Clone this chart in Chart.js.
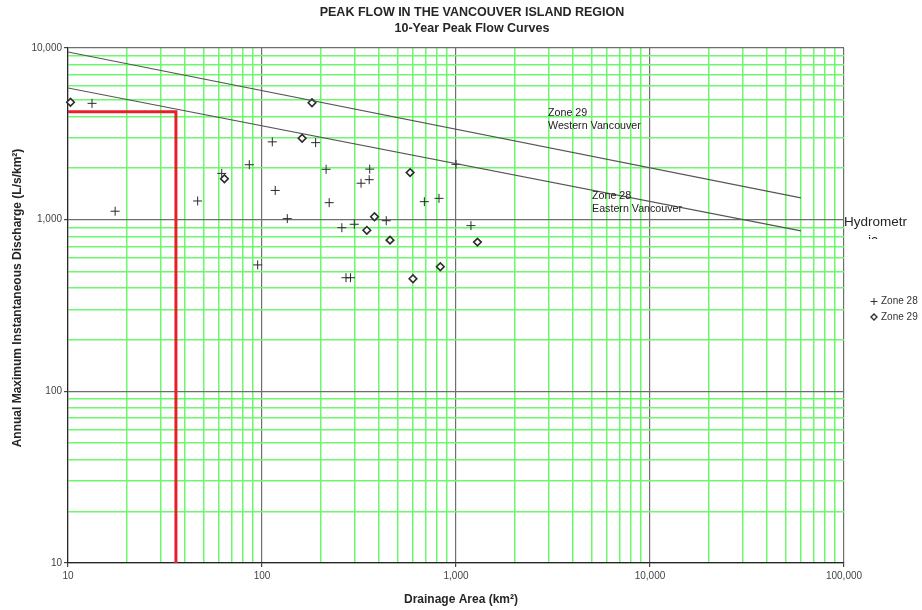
<!DOCTYPE html>
<html>
<head>
<meta charset="utf-8">
<title>Peak Flow - Vancouver Island Region</title>
<script src="https://cdn.jsdelivr.net/npm/chart.js@4.4.1/dist/chart.umd.min.js"></script>
<style>
    html, body { margin: 0; padding: 0; background: #ffffff; }
    #wrap { width: 922px; height: 610px; }
</style>
</head>
<body>
<div id="wrap"><canvas id="peak-flow-chart" width="922" height="610"></canvas></div>
<script>
// --- Data ---

// Zone 28 (Eastern Vancouver) hydrometric stations
const zone28Area = [13.3, 17.5, 46.6, 62, 86, 95, 113, 117, 135, 189, 214, 222, 258, 271, 286, 299, 324, 357, 359, 437, 687, 817, 1000, 1194];
const zone28Flow = [4760, 1120, 1285, 1860, 2090, 545, 2840, 1480, 1014, 2810, 1965, 1256, 898, 459, 459, 940, 1630, 1710, 1970, 986, 1273, 1331, 2100, 923];

// Zone 29 (Western Vancouver) hydrometric stations
const zone29Area = [10.3, 64, 161, 181, 347, 380, 457, 580, 600, 830, 1290];
const zone29Flow = [4830, 1730, 2980, 4800, 867, 1040, 760, 1880, 453, 532, 740];

// 10-year peak flow curves (end points)
const curveArea = [10, 60000];
const zone29Curve = [9480, 1340];
const zone28Curve = [5850, 860];

// Red design lookup (area -> discharge)
const designArea = [10, 36, 36];
const designFlow = [4250, 4250, 10];

// Axis decades
const xDecades = [10, 100, 1000, 10000, 100000];
const yDecades = [10, 100, 1000, 10000];

// 1..9 x each decade, for the log grid
function logGrid(decades) {
    const vals = [];
    decades.forEach((d, i) => {
        if (i === decades.length - 1) { vals.push(d); return; }
        for (let m = 1; m <= 9; m++) vals.push(d * m);
    });
    return vals;
}

const toPoints = (xs, ys) => xs.map((x, i) => ({ x: x, y: ys[i] }));
const isDecade = (v) => Math.abs(Math.log10(v) - Math.round(Math.log10(v))) < 1e-9;

const GREEN = '#6cf76c';
const DECADE = '#6e6e6e';
const INK = '#262626';
const FONT = '"Liberation Sans", Arial, sans-serif';

// Text overlay: titles, axis titles, curve labels, legend
const annotations = {
    id: 'annotations',
    afterDraw(chart) {
        const ctx = chart.ctx;
        const area = chart.chartArea;
        ctx.save();
        ctx.fillStyle = INK;
        ctx.textBaseline = 'middle';

        // titles
        ctx.textAlign = 'center';
        ctx.font = 'bold 12.5px ' + FONT;
        ctx.fillText('PEAK FLOW IN THE VANCOUVER ISLAND REGION', 472, 13);
        ctx.fillText('10-Year Peak Flow Curves', 472, 29);

        // axis titles
        ctx.font = 'bold 12px ' + FONT;
        ctx.fillText('Drainage Area (km\u00b2)', 461, 600);
        ctx.save();
        ctx.translate(18, 298);
        ctx.rotate(-Math.PI / 2);
        ctx.fillText('Annual Maximum Instantaneous Discharge (L/s/km\u00b2)', 0, 0);
        ctx.restore();

        // curve labels
        ctx.textAlign = 'left';
        ctx.font = '10.7px ' + FONT;
        ctx.fillStyle = '#222';
        ctx.fillText('Zone 29', 548, 113);
        ctx.fillText('Western Vancouver', 548, 126);
        ctx.fillText('Zone 28', 592, 196);
        ctx.fillText('Eastern Vancouver', 592, 209);

        // cut-off "Hydrometric" label
        ctx.fillStyle = INK;
        ctx.font = '13.5px ' + FONT;
        ctx.fillText('Hydrometr', area.right, 222);
        ctx.save();
        ctx.beginPath();
        ctx.rect(850, 228, 40, 11);
        ctx.clip();
        ctx.fillText('ic', 868, 240);
        ctx.restore();

        // legend
        ctx.font = '10px ' + FONT;
        ctx.strokeStyle = '#333';
        ctx.lineWidth = 1;
        ctx.beginPath();
        ctx.moveTo(870.5, 301.5); ctx.lineTo(877.5, 301.5);
        ctx.moveTo(874, 298); ctx.lineTo(874, 305);
        ctx.stroke();
        ctx.fillStyle = '#333';
        ctx.fillText('Zone 28', 881, 301);
        ctx.lineWidth = 1.4;
        ctx.beginPath();
        ctx.moveTo(874, 314); ctx.lineTo(877, 317);
        ctx.lineTo(874, 320); ctx.lineTo(871, 317);
        ctx.closePath();
        ctx.stroke();
        ctx.fillText('Zone 29', 881, 317);

        ctx.restore();
    }
};

function axisOptions(min, max, grid) {
    return {
        type: 'logarithmic',
        min: min,
        max: max,
        afterBuildTicks: (scale) => {
            scale.ticks = grid.map(v => ({ value: v }));
        },
        grid: {
            color: grid.map(v => isDecade(v) ? DECADE : GREEN),
            lineWidth: grid.map(v => isDecade(v) ? 1.2 : 1.5),
            tickColor: grid.map(v => isDecade(v) ? '#444' : 'rgba(0,0,0,0)'),
            tickLength: 4
        },
        border: { color: INK, width: 1.2 },
        ticks: {
            autoSkip: false,
            maxRotation: 0,
            padding: 3,
            color: '#444',
            font: { family: FONT, size: 10 },
            callback: (v) => isDecade(v) ? Number(v).toLocaleString('en-US') : ''
        }
    };
}

const xAxis = axisOptions(10, 100000, logGrid(xDecades));
xAxis.afterFit = (scale) => { scale.height = 47; };
const yAxis = axisOptions(10, 10000, logGrid(yDecades));
yAxis.afterFit = (scale) => { scale.width = 68; };
yAxis.ticks.padding = 2;

new Chart(document.getElementById('peak-flow-chart').getContext('2d'), {
    type: 'scatter',
    data: {
        datasets: [
            {
                label: 'Design',
                data: toPoints(designArea, designFlow),
                showLine: true,
                borderColor: '#e8202a',
                borderWidth: 3,
                pointRadius: 0,
                borderCapStyle: 'butt',
                borderJoinStyle: 'miter'
            },
            {
                label: 'Zone 29 curve',
                data: toPoints(curveArea, zone29Curve),
                showLine: true,
                borderColor: '#555',
                borderWidth: 1.2,
                pointRadius: 0
            },
            {
                label: 'Zone 28 curve',
                data: toPoints(curveArea, zone28Curve),
                showLine: true,
                borderColor: '#555',
                borderWidth: 1.2,
                pointRadius: 0
            },
            {
                label: 'Zone 28',
                data: toPoints(zone28Area, zone28Flow),
                pointStyle: 'cross',
                pointRadius: 4.5,
                borderColor: '#2a2a2a',
                borderWidth: 1,
                clip: 8
            },
            {
                label: 'Zone 29',
                data: toPoints(zone29Area, zone29Flow),
                pointStyle: 'rectRot',
                pointRadius: 3.8,
                backgroundColor: '#ffffff',
                borderColor: '#2a2a2a',
                borderWidth: 1.6,
                clip: 8
            }
        ]
    },
    options: {
        responsive: false,
        animation: false,
        layout: { padding: { top: 48, right: 78, bottom: 0, left: 0 } },
        scales: { x: xAxis, y: yAxis },
        plugins: {
            legend: { display: false },
            title: { display: false },
            tooltip: { enabled: false }
        }
    },
    plugins: [annotations]
});
</script>
</body>
</html>
